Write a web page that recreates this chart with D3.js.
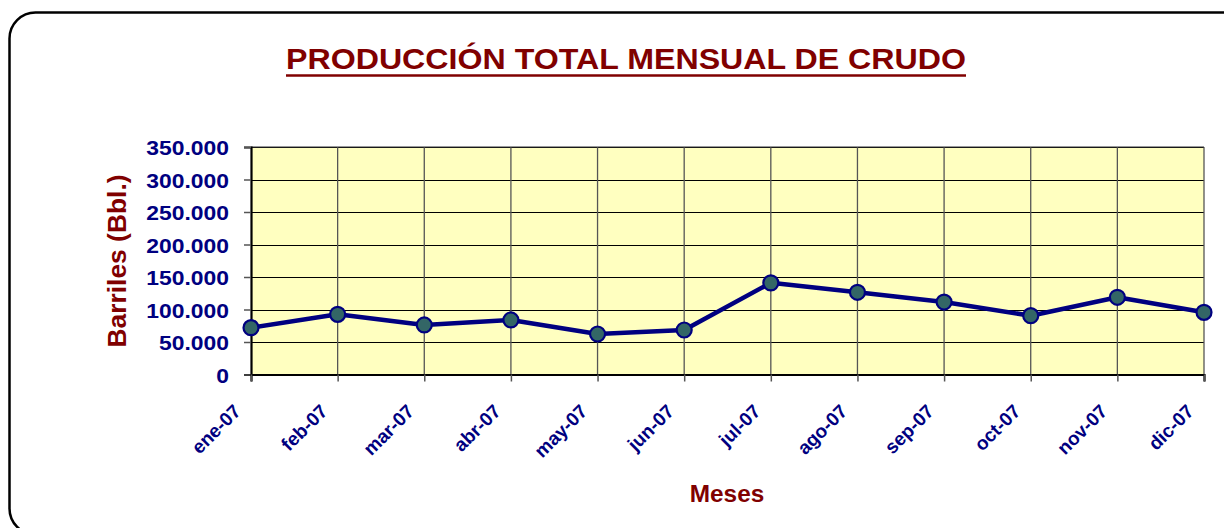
<!DOCTYPE html>
<html>
<head>
<meta charset="utf-8">
<script src="https://cdn.jsdelivr.net/npm/d3@7"></script>
<style>
  html, body { margin: 0; padding: 0; background: #ffffff; }
  svg { display: block; }
  text { font-family: "Liberation Sans", Arial, sans-serif; font-weight: bold; }
</style>
</head>
<body>
<svg id="chart" width="1224" height="528"></svg>
<script>
const months = ["ene-07","feb-07","mar-07","abr-07","may-07","jun-07","jul-07","ago-07","sep-07","oct-07","nov-07","dic-07"];
const production = [72000, 92600, 76200, 83900, 62300, 68500, 141000, 126500, 111500, 90500, 118800, 95700];
const yTicks = [0, 50000, 100000, 150000, 200000, 250000, 300000, 350000];
const titleText = "PRODUCCIÓN TOTAL MENSUAL DE CRUDO";
const xTitle = "Meses";
const yTitle = "Barriles (Bbl.)";

const svg = d3.select("#chart");
const plot = { left: 251, right: 1204, top: 147, bottom: 374.5 };
const navy = "#000080", maroon = "#800000";

// outer rounded border
svg.append("rect")
  .attr("x", 9.5).attr("y", 12.5)
  .attr("width", 1245).attr("height", 522)
  .attr("rx", 26).attr("ry", 26)
  .attr("fill", "#ffffff")
  .attr("stroke", "#000").attr("stroke-width", 2.5);

const x = d3.scalePoint().domain(months).range([plot.left, plot.right]);
const y = d3.scaleLinear().domain([0, 350000]).range([plot.bottom, plot.top]);

const loc = d3.formatLocale({ decimal: ",", thousands: ".", grouping: [3], currency: ["", ""] });
const fmt = loc.format(",d");

function stretch(sel, k) {
  sel.each(function () {
    const len = this.getComputedTextLength();
    d3.select(this).attr("textLength", len * k).attr("lengthAdjust", "spacingAndGlyphs");
  });
}

// plot background
svg.append("rect")
  .attr("x", plot.left).attr("y", plot.top)
  .attr("width", plot.right - plot.left).attr("height", plot.bottom - plot.top)
  .attr("fill", "#FFFFC0");

// horizontal gridlines
svg.append("g").selectAll("line").data(yTicks.slice(1)).join("line")
  .attr("x1", plot.left).attr("x2", plot.right)
  .attr("y1", d => Math.round(y(d)) + 0.5).attr("y2", d => Math.round(y(d)) + 0.5)
  .attr("stroke", "#000").attr("stroke-width", 1);

// vertical gridlines
svg.append("g").selectAll("line").data(months.slice(1)).join("line")
  .attr("x1", d => x(d)).attr("x2", d => x(d))
  .attr("y1", plot.top).attr("y2", plot.bottom)
  .attr("stroke", "#555").attr("stroke-width", 1.3);

// plot frame top
svg.append("line").attr("x1", plot.left).attr("x2", plot.right)
  .attr("y1", plot.top).attr("y2", plot.top).attr("stroke", "#333").attr("stroke-width", 1);

// Y axis
const yAxis = d3.axisLeft(y).tickValues(yTicks).tickFormat(fmt).tickSize(7).tickPadding(15);
const gy = svg.append("g").attr("transform", `translate(${plot.left},0)`).call(yAxis);
gy.select(".domain").attr("stroke", "#000").attr("stroke-width", 2.2);
gy.selectAll(".tick line").attr("stroke", "#555").attr("stroke-width", 1.5);
gy.selectAll(".tick text")
  .attr("fill", navy).attr("font-size", 21).attr("font-family", "Liberation Sans, Arial, sans-serif")
  .attr("font-weight", "bold").attr("dy", "0.36em");
stretch(gy.selectAll(".tick text"), 1.09);

// X axis
const xAxis = d3.axisBottom(x).tickSize(7).tickFormat("");
const gx = svg.append("g").attr("transform", `translate(0,${plot.bottom})`).call(xAxis);
gx.select(".domain").attr("stroke", "#000").attr("stroke-width", 2.2);
gx.selectAll(".tick line").attr("stroke", "#555").attr("stroke-width", 1.5);

// rotated x labels
svg.append("g").selectAll("text").data(months).join("text")
  .attr("transform", d => `translate(${x(d) - 9},${plot.bottom + 38}) rotate(-45)`)
  .attr("text-anchor", "end")
  .attr("fill", navy).attr("font-size", 19)
  .text(d => d);

// line
const line = d3.line().x((d, i) => x(months[i])).y(d => y(d));
svg.append("path").datum(production)
  .attr("d", line)
  .attr("fill", "none").attr("stroke", navy).attr("stroke-width", 4.5)
  .attr("stroke-linejoin", "round");

// markers
svg.append("g").selectAll("circle").data(production).join("circle")
  .attr("cx", (d, i) => x(months[i])).attr("cy", d => y(d))
  .attr("r", 7.5)
  .attr("fill", "#336666").attr("stroke", navy).attr("stroke-width", 2.2);

// title
svg.append("text")
  .attr("x", 626).attr("y", 69)
  .attr("text-anchor", "middle")
  .attr("fill", maroon).attr("font-size", 29.5)
  .attr("textLength", 680).attr("lengthAdjust", "spacingAndGlyphs")
  .text(titleText);
svg.append("line")
  .attr("x1", 286).attr("x2", 966).attr("y1", 75.5).attr("y2", 75.5)
  .attr("stroke", maroon).attr("stroke-width", 2.5);

// x title
const xt = svg.append("text")
  .attr("x", 727).attr("y", 502)
  .attr("text-anchor", "middle")
  .attr("fill", maroon).attr("font-size", 23)
  .text(xTitle);
stretch(xt, 1.06);

// y title
svg.append("text")
  .attr("transform", `translate(126,261) rotate(-90)`)
  .attr("text-anchor", "middle")
  .attr("fill", maroon).attr("font-size", 25)
  .attr("textLength", 173).attr("lengthAdjust", "spacingAndGlyphs")
  .text(yTitle);
</script>
</body>
</html>
